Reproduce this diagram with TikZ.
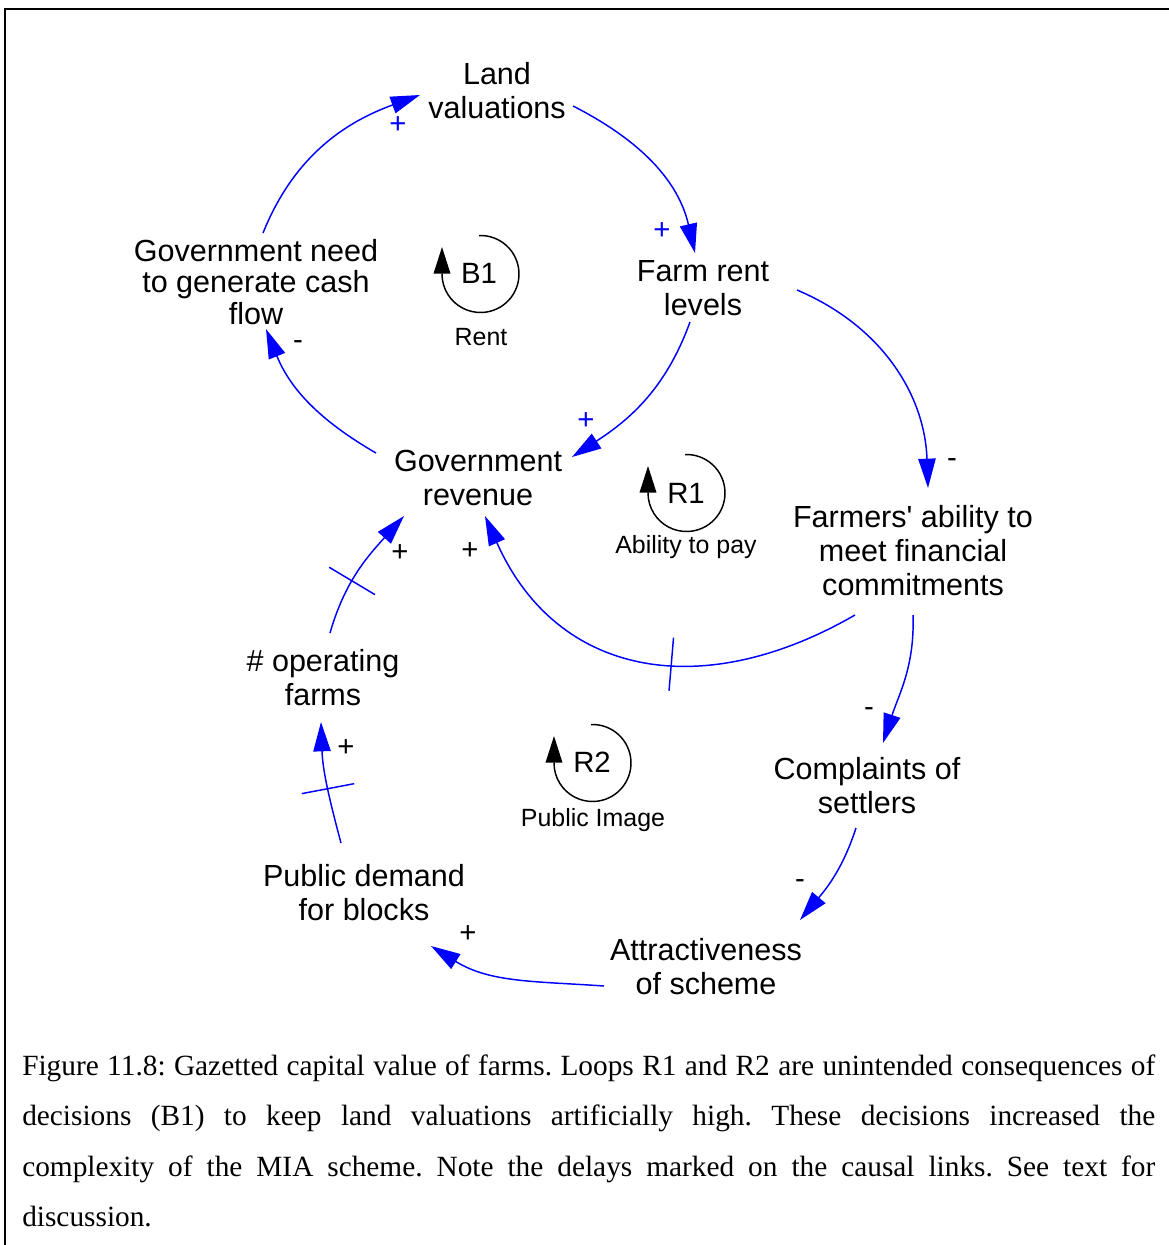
\documentclass[tikz,border=0pt]{standalone}
\usepackage{fontspec}
\setmainfont{Liberation Sans}
\newfontfamily\capfont{Liberation Serif}
\usetikzlibrary{arrows.meta,calc}

\begin{document}
\begin{tikzpicture}[x=0.75pt,y=0.75pt,
  var/.style={align=center, inner sep=0pt, font=\fontsize{22.9pt}{25.5pt}\selectfont},
  link/.style={draw=blue, line width=1.1pt, -{Triangle[length=22pt,width=13pt]}},
  pol/.style={inner sep=0pt, font=\fontsize{22pt}{22pt}\selectfont},
  bpol/.style={pol, text=blue},
  delaymark/.style={draw=blue, line width=1.1pt, sloped, minimum width=0pt,
    minimum height=40pt, inner sep=0pt},
  loopline/.style={draw=black, line width=1.1pt, -{Triangle[length=20pt,width=12.5pt]}},
  looptag/.style={inner sep=0pt, font=\fontsize{22pt}{22pt}\selectfont},
  loopname/.style={inner sep=0pt, font=\fontsize{18.7pt}{18.7pt}\selectfont},
  capline/.style={inner sep=0pt, anchor=base west, font=\capfont\frenchspacing\fontsize{22pt}{26pt}\selectfont}
]
\useasboundingbox (0,0) rectangle (1168,-1245);

% frame
\draw[line width=2pt] (5,-1250) -- (5,-9) -- (1172,-9);

% variables
\node[var] (land)   at (497,-91)  {Land\\valuations};
\node[var, font=\fontsize{22.9pt}{23.8pt}\selectfont] (gneed) at (256,-282) {Government need\\to generate cash\\flow};
\node[var] (farm)   at (703,-288) {Farm rent\\levels};
\node[var] (rev)    at (478,-478) {Government\\revenue};
\node[var] (abil)   at (913,-551) {Farmers\textquotesingle\ ability to\\meet financial\\commitments};
\node[var] (opf)    at (323,-678) {\# operating\\farms};
\node[var] (compl)  at (867,-786) {Complaints of\\settlers};
\node[var] (demand) at (364,-893) {Public demand\\for blocks};
\node[var] (attr)   at (706,-967) {Attractiveness\\of scheme};

% causal links
\draw[link] ($(gneed)+(7,49)$) to[out=68,in=200] ($(land)+(-77,-4)$);
\draw[link] ($(land)+(76,-15)$) to[out=-27,in=103] ($(farm)+(-8,35)$);
\draw[link] ($(farm)+(-13,-34)$) to[out=-110,in=33] ($(rev)+(94,21)$);
\draw[link] ($(rev)+(-102,25)$) to[out=150,in=-68] ($(gneed)+(10,-47)$);
\draw[link] ($(farm)+(94,-2)$) to[out=-23,in=92] ($(abil)+(15,63)$);
\draw[link] ($(abil)+(-58,-64)$) to[out=210,in=-66, looseness=1.18]
  node[delaymark, pos=0.42] (d1) {} ($(rev)+(7,-38)$);
\draw[link] ($(opf)+(7,45)$) to[out=74,in=228]
  node[delaymark, pos=0.40] (d2) {} ($(rev)+(-74,-38)$);
\draw[link] ($(demand)+(-23,50)$) to[out=105,in=-88]
  node[delaymark, pos=0.45] (d3) {} ($(opf)+(-2,-44)$);
\draw[link] ($(abil)+(0,-64)$) to[out=-88,in=72] ($(compl)+(16,43)$);
\draw[link] ($(compl)+(-11,-42)$) to[out=-108,in=50] ($(attr)+(94,47)$);
\draw[link] ($(attr)+(-102,-19)$) to[out=176,in=-32] ($(demand)+(67,-53)$);

% link polarities
\node[bpol] (p1)  at (398,-125) {+};
\node[bpol] (p2)  at (662,-231) {+};
\node[bpol] (p3)  at (586,-421) {+};
\node[pol]  (p4)  at (298,-345) {-};
\node[pol]  (p5)  at (952,-463) {-};
\node[pol]  (p6)  at (470,-551) {+};
\node[pol]  (p7)  at (400,-553) {+};
\node[pol]  (p8)  at (346,-748) {+};
\node[pol]  (p9)  at (869,-712) {-};
\node[pol]  (p10) at (800,-884) {-};
\node[pol]  (p11) at (468,-934) {+};

% loop identifiers
\coordinate (b1c) at (480.5,-274);
\coordinate (r1c) at (686.5,-493);
\coordinate (r2c) at (592.5,-763);
\foreach \c in {b1c,r1c,r2c}
  \draw[loopline] ($(\c)+(92:38.5)$) arc[start angle=92, end angle=-180, radius=38.5] -- ++(0,27);
\node[looptag]  (b1)  at (479,-273) {B1};
\node[loopname] (b1n) at (481,-337) {Rent};
\node[looptag]  (r1)  at (686,-493) {R1};
\node[loopname] (r1n) at (686,-547) {Ability to pay};
\node[looptag]  (r2)  at (592,-762) {R2};
\node[loopname] (r2n) at (593,-820) {Public Image};

% caption
\node[capline] (c1) at (22,-1075) {\makebox[849.75pt][s]{Figure 11.8: Gazetted capital value of farms. Loops R1 and R2 are unintended consequences of}};
\node[capline] (c2) at (22,-1125.5) {\makebox[849.75pt][s]{decisions (B1) to keep land valuations artificially high. These decisions increased the}};
\node[capline] (c3) at (22,-1176) {\makebox[849.75pt][s]{complexity of the MIA scheme. Note the delays marked on the causal links. See text for}};
\node[capline] (c4) at (22,-1226.5) {discussion.};
\end{tikzpicture}
\end{document}
